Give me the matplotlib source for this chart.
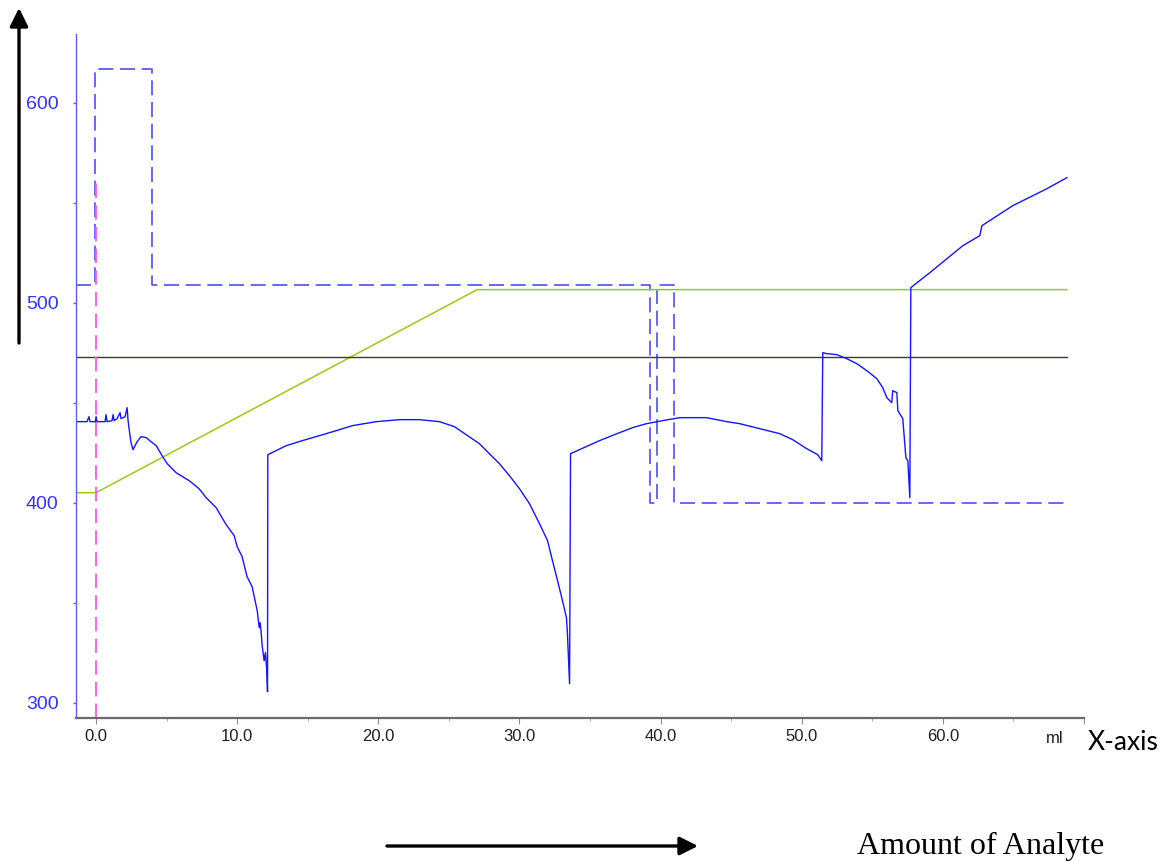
import numpy as np
import matplotlib
matplotlib.use("Agg")
import matplotlib.pyplot as plt
from matplotlib import font_manager
from matplotlib.ticker import MultipleLocator, FixedLocator, FixedFormatter

# --- data (x in ml) ---
# measured signal (solid blue)
sig_ml = [-1.42, -0.64, -0.50, -0.43, -0.05, 0.00, 0.07, 0.64, 0.71, 0.78,
          1.13, 1.21, 1.28, 1.49, 1.70, 1.77, 2.06, 2.20, 2.27, 2.34,
          2.48, 2.62, 2.91, 3.19, 3.55, 3.90, 4.26, 4.68, 5.04, 5.67,
          6.60, 7.30, 7.80, 8.51, 9.22, 9.79, 10.00, 10.35, 10.70, 11.06,
          11.42, 11.56, 11.63, 11.70, 11.77, 11.91, 12.00, 12.10, 12.15, 12.17,
          13.48, 14.61, 15.82, 17.02, 18.16, 19.86, 21.49, 22.91, 24.33, 25.39,
          27.16, 28.58, 29.29, 30.00, 30.71, 31.42, 31.99, 32.34, 32.70, 33.05,
          33.33, 33.40, 33.55, 33.62, 35.67, 37.09, 38.01, 39.01, 40.14, 41.35,
          43.26, 44.68, 45.60, 47.02, 48.44, 49.36, 50.35, 51.13, 51.42, 51.49,
          51.77, 52.48, 53.19, 53.90, 54.61, 55.32, 55.74, 56.03, 56.38, 56.45,
          56.74, 56.81, 57.16, 57.38, 57.52, 57.66, 57.73, 59.08, 61.42, 62.62,
          62.77, 64.96, 67.38, 68.79]
sig_val = [440.5, 440.5, 443.0, 440.5, 440.5, 443.0, 440.5, 440.5, 444.0, 440.5,
           441.0, 444.0, 441.0, 442.0, 445.0, 442.0, 443.0, 447.5, 441.0, 437.0,
           430.0, 426.5, 430.5, 433.0, 432.5, 430.5, 428.5, 423.5, 419.5, 415.0,
           411.0, 407.0, 402.5, 397.5, 389.0, 383.5, 378.0, 373.0, 363.0, 358.0,
           346.0, 337.5, 340.0, 335.0, 328.5, 321.0, 325.0, 316.0, 305.5, 424.0,
           428.5, 431.0, 433.5, 436.0, 438.5, 440.5, 441.5, 441.5, 440.5, 438.0,
           429.5, 419.5, 413.5, 407.0, 399.5, 389.5, 381.0, 371.0, 361.0, 351.0,
           342.5, 334.5, 309.5, 424.5, 431.0, 435.0, 437.5, 439.5, 441.0, 442.5,
           442.5, 440.5, 439.5, 437.0, 434.5, 431.5, 427.0, 424.0, 421.0, 475.0,
           474.5, 474.0, 472.0, 469.5, 466.0, 462.0, 457.5, 452.5, 450.0, 456.0,
           455.0, 446.0, 442.0, 422.5, 421.0, 402.5, 507.5, 515.0, 528.5, 533.5,
           538.5, 548.5, 557.0, 562.5]

# dosing / setpoint step trace (dashed blue), steps-post
step_ml = [-1.42, -0.07, 3.93, 39.22, 39.72, 40.92, 68.79]
step_val = [509, 617, 509, 400, 509, 400, 400]

# green ramp
ramp_ml = [-1.42, 0.0, 27.0, 68.79]
ramp_val = [405, 405, 506.5, 506.5]

# dark reference level
ref_level = 472.6
end_ml = 68.79

# pink start marker
start_ml = 0.0
start_top = 561

x_ticks = [0, 10, 20, 30, 40, 50, 60, 70]
x_labels = ["0.0", "10.0", "20.0", "30.0", "40.0", "50.0", "60.0", ""]
y_ticks = [300, 400, 500, 600]

names = {f.name for f in font_manager.fontManager.ttflist}
tick_font = "Liberation Sans Narrow" if "Liberation Sans Narrow" in names else "Liberation Sans"
label_font = "Lato" if "Lato" in names else "DejaVu Sans"

W, H = 1167, 861
fig = plt.figure(figsize=(W / 100, H / 100), dpi=100)
ax = fig.add_axes([76 / W, (H - 717.7) / H, (1084 - 76) / W, (717.7 - 34) / H])

ax.plot(step_ml, step_val, drawstyle="steps-post", color="#4d4dff", lw=1.2,
        linestyle=(0, (9, 4)))
ax.plot(ramp_ml, ramp_val, color="#99cc11", lw=1.1)
ax.plot([-1.42, end_ml], [ref_level, ref_level], color="#3c3c2a", lw=1.0)
ax.plot([start_ml, start_ml], [292.5, start_top], color="#ff55ee", lw=1.3,
        linestyle=(0, (8, 4)))
ax.plot(sig_ml, sig_val, color="#1414ff", lw=1.0)

ax.set_xlim(-1.42, 70)
ax.set_ylim(292.5, 634.3)

for s in ["top", "right"]:
    ax.spines[s].set_visible(False)
ax.spines["left"].set_color("#5c5cff")
ax.spines["left"].set_linewidth(1.0)
ax.spines["bottom"].set_color("#6a6a6a")
ax.spines["bottom"].set_linewidth(1.6)

ax.xaxis.set_major_locator(FixedLocator(x_ticks))
ax.xaxis.set_major_formatter(FixedFormatter(x_labels))
ax.xaxis.set_minor_locator(MultipleLocator(5))
ax.yaxis.set_major_locator(FixedLocator(y_ticks))
ax.yaxis.set_minor_locator(MultipleLocator(50))

ax.tick_params(axis="x", which="major", length=4, width=0.8, color="#909090",
               labelcolor="#202020", labelsize=12, pad=4)
ax.tick_params(axis="x", which="minor", length=2.5, width=0.8, color="#b0b0b0")
ax.tick_params(axis="y", which="both", length=2.5, width=1.0, color="#5c5cff",
               labelcolor="#3333ff", labelsize=14, pad=10)
for lab in ax.get_xticklabels() + ax.get_yticklabels():
    lab.set_family(tick_font)

ax.text(67.9, -0.019, "ml", transform=ax.get_xaxis_transform(), ha="center",
        va="top", fontsize=12, color="#202020", family=tick_font)

fig.text(1088 / W, 1 - 742 / H, "X-axis", ha="left", va="center",
         fontsize=19, family=label_font, color="black")
fig.text(857 / W, 1 - 846 / H, "Amount of Analyte", ha="left", va="center",
         fontsize=23, family="Liberation Serif", color="black")

arrow = dict(arrowstyle="-|>,head_length=1.1,head_width=0.55", lw=2.4,
             color="black", mutation_scale=10, shrinkA=0, shrinkB=0)
ax.annotate("", xy=(19, H - 8), xytext=(19, H - 343), xycoords="figure pixels",
            textcoords="figure pixels", arrowprops=arrow, annotation_clip=False)
ax.annotate("", xy=(698, H - 846), xytext=(387, H - 846), xycoords="figure pixels",
            textcoords="figure pixels", arrowprops=arrow, annotation_clip=False)

fig.savefig("out.png", dpi=100)
